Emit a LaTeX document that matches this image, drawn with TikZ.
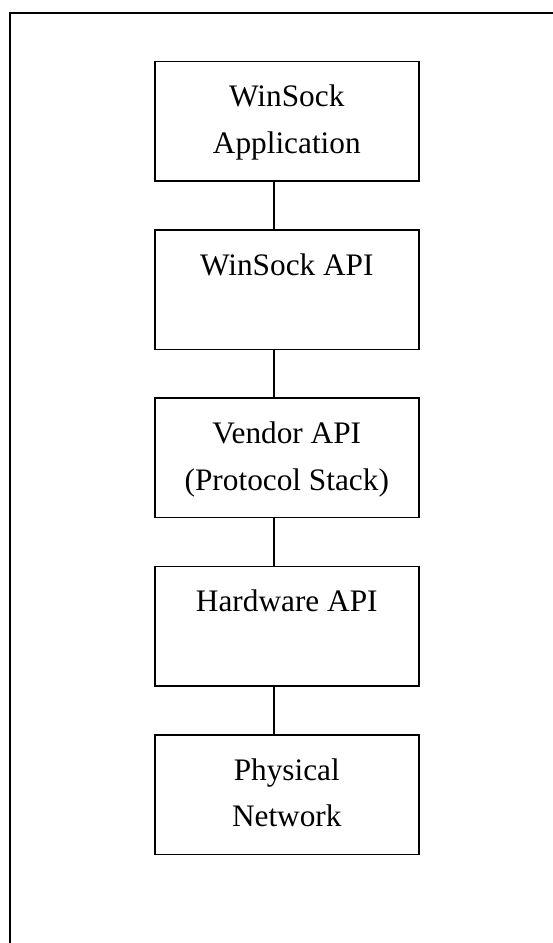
\documentclass[tikz,border=0pt]{standalone}
\usepackage{fontspec}
\setmainfont{Liberation Serif}
\begin{document}
\begin{tikzpicture}[x=1pt,y=1pt,
  layer/.style={draw=black, line width=1.6pt, minimum width=264pt,
    minimum height=119.5pt, inner sep=0pt, anchor=north west},
  caption/.style={anchor=base, inner sep=0pt,
    font=\fontsize{31.3}{46.7}\selectfont},
  link/.style={draw=black, line width=1.5pt}]
  \useasboundingbox (0,0) rectangle (553,-943);
  \clip (0,0) rectangle (553,-943);

  % outer frame (runs off the page on the right and bottom)
  \draw[line width=1.7pt] (9.7,-960) -- (9.7,-12.7) -- (580,-12.7);

  % stack of layers
  \node[layer] (app)  at (154,-60.7)  {};
  \node[layer] (wsapi) at (154,-229.0) {};
  \node[layer] (vendor) at (154,-397.3) {};
  \node[layer] (hw)   at (154,-565.6) {};
  \node[layer] (phys) at (154,-734.0) {};

  % labels, first baseline a fixed distance below each top edge
  \node[caption] (appT)    at ([yshift=-46pt]app.north)
    {\begin{tabular}[t]{@{}c@{}}WinSock\\Application\end{tabular}};
  \node[caption] (wsapiT)  at ([yshift=-46pt]wsapi.north) {WinSock API};
  \node[caption] (vendorT) at ([yshift=-46pt]vendor.north)
    {\begin{tabular}[t]{@{}c@{}}Vendor API\\(Protocol Stack)\end{tabular}};
  \node[caption] (hwT)     at ([yshift=-46pt]hw.north) {Hardware API};
  \node[caption] (physT)   at ([yshift=-46pt]phys.north)
    {\begin{tabular}[t]{@{}c@{}}Physical\\Network\end{tabular}};

  % vertical spine joining the layers
  \coordinate (spine) at (274,0);
  \draw[link] (app.south -| spine)    -- (wsapi.north -| spine);
  \draw[link] (wsapi.south -| spine)  -- (vendor.north -| spine);
  \draw[link] (vendor.south -| spine) -- (hw.north -| spine);
  \draw[link] (hw.south -| spine)     -- (phys.north -| spine);
\end{tikzpicture}
\end{document}
